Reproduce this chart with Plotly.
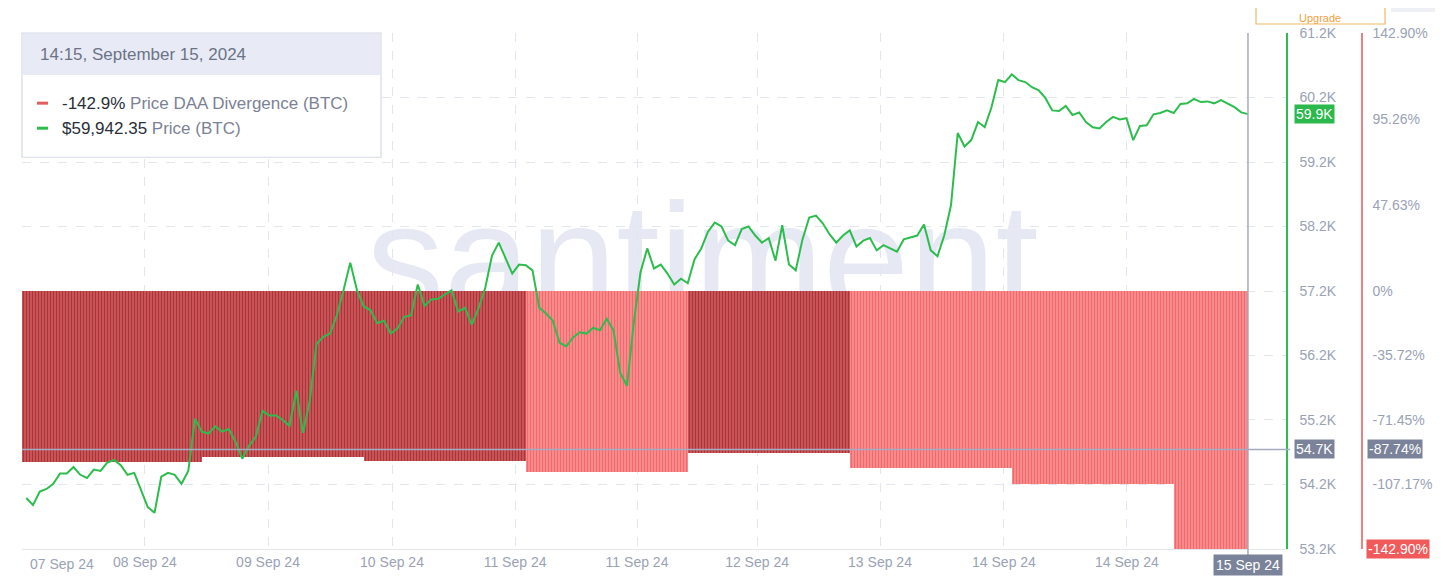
import pandas as pd
import plotly.graph_objects as go

# ---------------- data ----------------
price_start = "2024-09-08 01:15"   # hourly BTC price, last point 15 Sep 14:15
price_btc = [
    53990, 53880, 54090, 54130, 54210, 54370, 54370, 54470, 54350, 54300,
    54430, 54410, 54540, 54580, 54500, 54350, 54380, 54120, 53850, 53760,
    54320, 54380, 54350, 54210, 54410, 55220, 55020, 54990, 55100, 55020,
    55060, 54860, 54600, 54800, 54940, 55340, 55270, 55270, 55200, 55110,
    55650, 55000, 55500, 56380, 56490, 56540, 56820, 57210, 57640, 57210,
    56960, 56900, 56700, 56740, 56540, 56620, 56800, 56820, 57300, 56970,
    57070, 57080, 57150, 57210, 56880, 56940, 56680, 56930, 57250, 57750,
    57950, 57700, 57470, 57610, 57600, 57520, 56940, 56850, 56740, 56400,
    56340, 56480, 56560, 56540, 56630, 56590, 56770, 56590, 55930, 55730,
    56700, 57490, 57860, 57550, 57610, 57470, 57300, 57390, 57320, 57690,
    57860, 58120, 58260, 58200, 57980, 57910, 58160, 58200, 58060, 57950,
    58020, 57670, 58220, 57610, 57520, 58000, 58340, 58370, 58250, 58080,
    57950, 58060, 58140, 57890, 57980, 58020, 57830, 57910, 57860, 57810,
    58000, 58030, 58060, 58230, 57830, 57740, 58060, 58530, 59650, 59440,
    59540, 59820, 59740, 60050, 60470, 60440, 60560, 60470, 60440, 60360,
    60310, 60190, 60000, 59990, 60070, 59930, 59970, 59820, 59740, 59720,
    59820, 59900, 59860, 59880, 59540, 59760, 59770, 59940, 59960, 60000,
    59960, 60100, 60110, 60180, 60130, 60140, 60110, 60160, 60100, 60050,
    59970, 59942.35,
]

# daily Price DAA Divergence (%)
div_start = ["2024-09-08 00:37", "2024-09-09 03:20", "2024-09-10 03:20", "2024-09-11 03:20",
             "2024-09-12 03:20", "2024-09-13 03:20", "2024-09-14 03:20", "2024-09-15 03:20"]
div_end = ["2024-09-09 03:20", "2024-09-10 03:20", "2024-09-11 03:20", "2024-09-12 03:20",
           "2024-09-13 03:20", "2024-09-14 03:20", "2024-09-15 03:20", "2024-09-15 14:15"]
div_values = [-94.7, -91.9, -94.2, -100.2, -89.7, -98.0, -107.17, -142.9]
div_dark = [True, True, True, False, True, False, False, False]

# axis ticks
x_tick_times = ["2024-09-08 18:50", "2024-09-09 13:04", "2024-09-10 07:26", "2024-09-11 01:40",
                "2024-09-11 19:44", "2024-09-12 13:31", "2024-09-13 07:44", "2024-09-14 02:06",
                "2024-09-14 20:19"]
x_tick_labels = ["08 Sep 24", "09 Sep 24", "10 Sep 24", "11 Sep 24", "11 Sep 24",
                 "12 Sep 24", "13 Sep 24", "14 Sep 24", "14 Sep 24"]
price_ticks = [53200, 54200, 55200, 56200, 57200, 58200, 59200, 60200, 61200]
price_tick_labels = ["53.2K", "54.2K", "55.2K", "56.2K", "57.2K", "58.2K", "59.2K", "60.2K", "61.2K"]
pct_ticks = [142.9, 95.26, 47.63, 0, -35.72, -71.45, -107.17]
pct_tick_labels = ["142.90%", "95.26%", "47.63%", "0%", "-35.72%", "-71.45%", "-107.17%"]

x_range = ["2024-09-08 00:37", "2024-09-15 19:53"]
cross_pct = -87.74
cross_price_label = "54.7K"
last_time = "2024-09-15 14:15"

# ---------------- figure ----------------
# page container (autosized) sits at (8, 16) and measures about 1427 x 553
OX, OY, CW, CH = 8, 16, 1427, 553
def px(v):
    return (v - OX) / CW
def py(v):
    return 1 - (v - OY) / CH

times = pd.date_range(price_start, periods=len(price_btc), freq="h")

GREEN = "#2dbd4e"
RED_AX = "#e98383"
TICK = "#9aa2b6"
GRID = "#e3e6ee"

fig = go.Figure()
styles = {True: ("#cd5659", "#a7363b"), False: ("#fb8e8e", "#ee6a6c")}
for dark in (True, False):
    idx = [i for i, d in enumerate(div_dark) if d == dark]
    s = pd.to_datetime([div_start[i] for i in idx])
    e = pd.to_datetime([div_end[i] for i in idx])
    bg, fg = styles[dark]
    fig.add_trace(go.Bar(
        x=s + (e - s) / 2, y=[div_values[i] for i in idx],
        width=[(b - a).total_seconds() * 1000 for a, b in zip(s, e)], yaxis="y",
        marker=dict(color=bg, line=dict(width=0),
                    pattern=dict(shape="|", size=3, solidity=0.4, fillmode="replace",
                                 bgcolor=bg, fgcolor=fg)),
        hoverinfo="skip", showlegend=False,
    ))
fig.add_trace(go.Scatter(
    x=times, y=price_btc, yaxis="y2", mode="lines",
    line=dict(color=GREEN, width=2), hoverinfo="skip", showlegend=False,
))

fig.update_layout(
    autosize=True, margin=dict(l=0, r=0, t=0, b=0),
    paper_bgcolor="white", plot_bgcolor="white",
    font=dict(family="Arial, Liberation Sans, sans-serif", color=TICK, size=14),
    bargap=0, barmode="overlay",
    xaxis=dict(
        domain=[px(22), px(1286)], type="date", range=x_range,
        tickvals=x_tick_times, ticktext=x_tick_labels,
        showgrid=True, gridcolor=GRID, griddash="dash", gridwidth=1,
        showline=True, linecolor="#e4e7ee", linewidth=1, zeroline=False,
        ticks="", tickfont=dict(size=14, color=TICK),
    ),
    yaxis=dict(
        domain=[py(548), py(33)], range=[-142.9, 142.9],
        side="right", anchor="free", position=px(1362),
        tickvals=pct_ticks, ticktext=pct_tick_labels,
        showgrid=False, zeroline=False, showline=True, linecolor=RED_AX, linewidth=1.5,
        ticks="", ticklabelstandoff=7, tickfont=dict(size=14, color=TICK),
    ),
    yaxis2=dict(
        overlaying="y", side="right", anchor="x", range=[53200, 61200],
        tickvals=price_ticks, ticktext=price_tick_labels,
        showgrid=True, gridcolor=GRID, griddash="dash", gridwidth=1,
        zeroline=False, showline=True, linecolor=GREEN, linewidth=1.5,
        ticks="", ticklabelstandoff=9, tickfont=dict(size=14, color=TICK),
    ),
)

shapes = []
# watermark
shapes.append(dict(type="rect", xref="paper", yref="paper", x0=px(334), x1=px(1114),
                   y0=py(323), y1=py(163), line=dict(width=0), fillcolor="rgba(0,0,0,0)",
                   layer="below",
                   label=dict(text="santiment.", textposition="middle center",
                              font=dict(size=155, color="#e6e9f3", family="Arial, Liberation Sans"))))
# crosshair
shapes.append(dict(type="line", xref="paper", yref="y", x0=px(22), x1=px(1290),
                   y0=cross_pct, y1=cross_pct, line=dict(color="#a4abc2", width=1.5), layer="above"))
shapes.append(dict(type="line", xref="x", yref="paper", x0=last_time, x1=last_time,
                   y0=py(556), y1=py(33), line=dict(color="#a4abc2", width=1.5), layer="above"))
# tooltip box
shapes.append(dict(type="rect", xref="paper", yref="paper", x0=px(22), x1=px(381),
                   y0=py(157), y1=py(33), fillcolor="white", line=dict(color="#d6dae6", width=1.2),
                   layer="above"))
shapes.append(dict(type="rect", xref="paper", yref="paper", x0=px(22.6), x1=px(380.4),
                   y0=py(75), y1=py(33.6), fillcolor="#e8ebf6", line=dict(width=0), layer="above"))
shapes.append(dict(type="line", xref="paper", yref="paper", x0=px(37), x1=px(48),
                   y0=py(103), y1=py(103), line=dict(color="#e35d5d", width=3), layer="above"))
shapes.append(dict(type="line", xref="paper", yref="paper", x0=px(37), x1=px(48),
                   y0=py(128), y1=py(128), line=dict(color=GREEN, width=3), layer="above"))
# top-right UI bits
shapes.append(dict(type="rect", xref="paper", yref="paper", x0=px(1256), x1=px(1385),
                   y0=py(24), y1=py(-20), fillcolor="white", line=dict(color="#f3b767", width=1.2)))
shapes.append(dict(type="rect", xref="paper", yref="paper", x0=px(1391), x1=px(1450),
                   y0=py(12), y1=py(-10), fillcolor="#eef0f5", line=dict(width=0)))
shapes.append(dict(type="rect", xref="paper", yref="paper", x0=px(1437), x1=px(1450),
                   y0=py(500), y1=py(258), fillcolor="#1db489", line=dict(width=0)))
fig.update_layout(shapes=shapes)

ann = []
DARK = "#2a2e38"
ann.append(dict(xref="paper", yref="paper", x=px(38), y=py(54), xanchor="left", yanchor="middle",
                text="14:15, September 15, 2024", showarrow=False,
                font=dict(size=17, color="#6c7386")))
ann.append(dict(xref="paper", yref="paper", x=px(60), y=py(103), xanchor="left", yanchor="middle",
                text=f"<span style='color:{DARK}'>{div_values[-1]:.1f}%</span> Price DAA Divergence (BTC)",
                showarrow=False, font=dict(size=17, color="#7b8295")))
ann.append(dict(xref="paper", yref="paper", x=px(60), y=py(128), xanchor="left", yanchor="middle",
                text=f"<span style='color:{DARK}'>${price_btc[-1]:,.2f}</span> Price (BTC)",
                showarrow=False, font=dict(size=17, color="#7b8295")))
# axis value boxes
ann.append(dict(xref="paper", yref="y2", x=px(1294), y=price_btc[-1], xanchor="left", yanchor="middle",
                text=f"{price_btc[-1] / 1000:.1f}K", showarrow=False, bgcolor="#2bb84c",
                font=dict(size=14, color="white"), borderpad=1))
ann.append(dict(xref="paper", yref="y", x=px(1294), y=cross_pct, xanchor="left", yanchor="middle",
                text=cross_price_label, showarrow=False, bgcolor="#7a8399",
                font=dict(size=14, color="white"), borderpad=1))
ann.append(dict(xref="paper", yref="y", x=px(1367), y=cross_pct, xanchor="left", yanchor="middle",
                text=f"{cross_pct:.2f}%", showarrow=False, bgcolor="#7a8399",
                font=dict(size=14, color="white"), borderpad=1))
ann.append(dict(xref="paper", yref="y", x=px(1366), y=div_values[-1], xanchor="left", yanchor="middle",
                text=f"{div_values[-1]:.2f}%", showarrow=False, bgcolor="#f05a5a",
                font=dict(size=14, color="white"), borderpad=1))
ann.append(dict(xref="x", yref="paper", x=last_time, y=py(564), xanchor="center", yanchor="middle",
                text="15 Sep 24", showarrow=False, bgcolor="#7a8399",
                font=dict(size=14, color="white"), borderpad=2))
ann.append(dict(xref="paper", yref="paper", x=px(62), y=py(563), xanchor="center", yanchor="middle",
                text="07 Sep 24", showarrow=False, font=dict(size=14, color=TICK)))
ann.append(dict(xref="paper", yref="paper", x=px(1320), y=py(16), xanchor="center", yanchor="bottom",
                yshift=-9, text="Upgrade", showarrow=False, font=dict(size=11, color="#f0a23e"),
                borderpad=0))
fig.update_layout(annotations=ann)

fig.write_html("out.html")
